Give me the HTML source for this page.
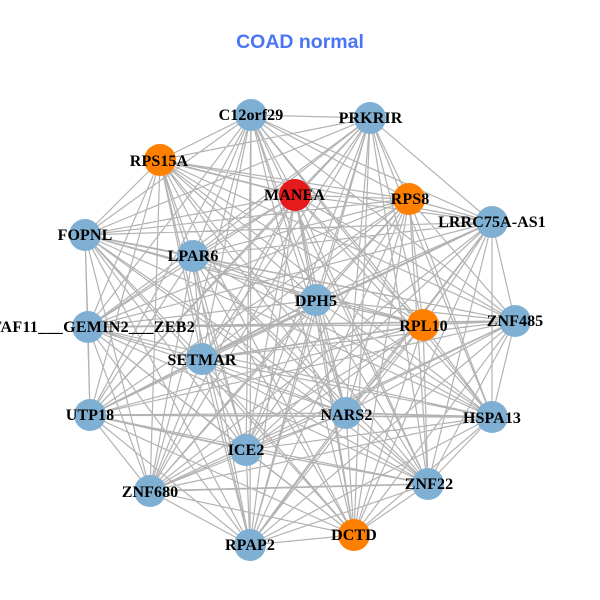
<!DOCTYPE html>
<html><head><meta charset="utf-8"><style>
html,body{margin:0;padding:0;background:#fff;width:600px;height:600px;overflow:hidden}
svg{display:block}
.l{font:bold 16px "Liberation Serif",serif;letter-spacing:.1px;fill:#000;text-anchor:middle}
</style></head><body>
<svg id="s" width="600" height="600" viewBox="0 0 600 600" xmlns="http://www.w3.org/2000/svg">
<rect width="600" height="600" fill="#fff"/>
<path id="e" fill="none" stroke="#b3b3b3" stroke-width="1.2"/>
<path fill="none" stroke="#b3b3b3" stroke-width="1.7" d="M492 222L202 359M88 327L515 321M90 415L492 417M346 413L492 417M150 491L428 484M85 235L193 256M160 160L295 195M90 415L246 450M202 359L423 325M90 415L316 300"/>
<g id="n" fill="#7fb0d3">
<circle cx="251" cy="115" r="16"/><circle cx="370" cy="118" r="16"/><circle cx="160" cy="160" r="16" fill="#ff7f00"/><circle cx="295" cy="195" r="16" fill="#e41a1c"/><circle cx="409" cy="199" r="16" fill="#ff7f00"/><circle cx="492" cy="222" r="16"/><circle cx="85" cy="235" r="16"/><circle cx="193" cy="256" r="16"/><circle cx="316" cy="300" r="16"/><circle cx="515" cy="321" r="16"/><circle cx="423" cy="325" r="16" fill="#ff7f00"/><circle cx="88" cy="327" r="16"/><circle cx="202" cy="359" r="16"/><circle cx="90" cy="415" r="16"/><circle cx="346" cy="413" r="16"/><circle cx="492" cy="417" r="16"/><circle cx="246" cy="450" r="16"/><circle cx="428" cy="484" r="16"/><circle cx="150" cy="491" r="16"/><circle cx="354" cy="535" r="16" fill="#ff7f00"/><circle cx="250" cy="545" r="16"/>
</g>
<text x="300" y="48" text-anchor="middle" style="font:bold 19.5px 'Liberation Sans',sans-serif" fill="#4a76f5">COAD normal</text>
<text class="l" x="251" y="120">C12orf29</text>
<text class="l" x="370.5" y="123">PRKRIR</text>
<text class="l" x="159" y="166">RPS15A</text>
<text class="l" x="294.5" y="200">MANEA</text>
<text class="l" x="410" y="204">RPS8</text>
<text class="l" x="492" y="227">LRRC75A-AS1</text>
<text class="l" x="85" y="240">FOPNL</text>
<text class="l" x="193" y="261">LPAR6</text>
<text class="l" x="316" y="306">DPH5</text>
<text class="l" x="515" y="326">ZNF485</text>
<text class="l" x="423.5" y="331">RPL10</text>
<text class="l" x="195" y="332" style="text-anchor:end;letter-spacing:.3px">TAF11___GEMIN2___ZEB2</text>
<text class="l" x="202" y="365">SETMAR</text>
<text class="l" x="90" y="420">UTP18</text>
<text class="l" x="346.5" y="420">NARS2</text>
<text class="l" x="492" y="423">HSPA13</text>
<text class="l" x="246" y="455">ICE2</text>
<text class="l" x="429" y="489">ZNF22</text>
<text class="l" x="150" y="497">ZNF680</text>
<text class="l" x="354" y="540">DCTD</text>
<text class="l" x="250" y="550">RPAP2</text>
</svg>
<script>
var c=[].slice.call(document.querySelectorAll('#n circle')).map(function(o){return [o.getAttribute('cx'),o.getAttribute('cy')]});
var d='';for(var i=0;i<c.length;i++)for(var j=i+1;j<c.length;j++){if(i==1&&j==9)continue;d+='M'+c[i]+'L'+c[j];}
document.getElementById('e').setAttribute('d',d);
</script>
</body></html>
